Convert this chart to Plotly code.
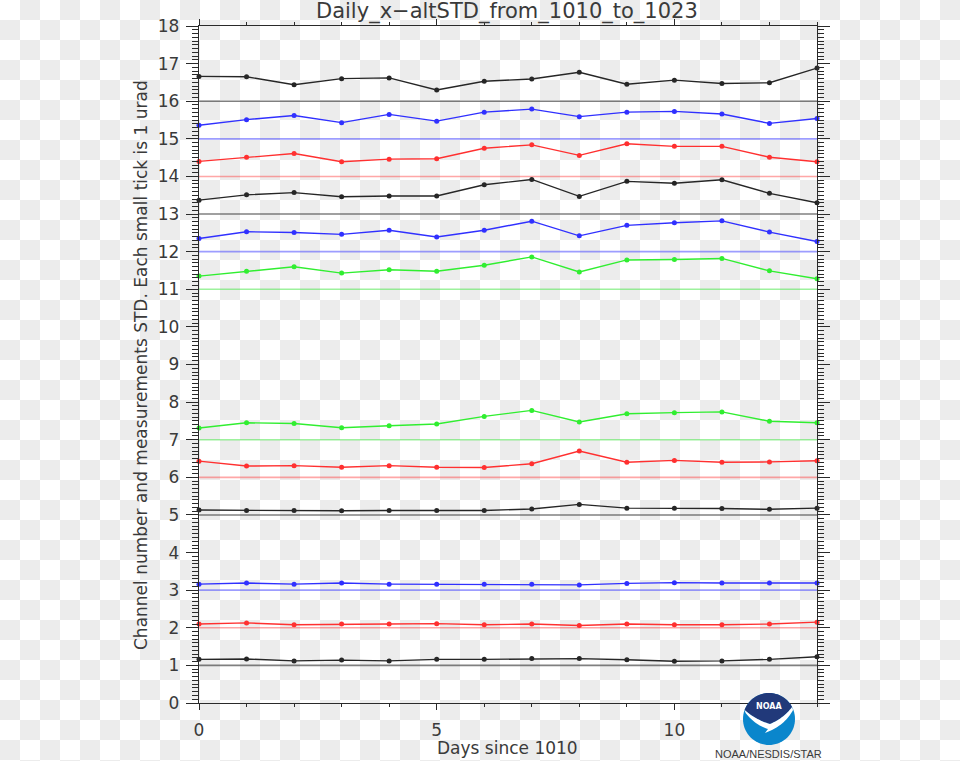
import base64
import numpy as np
import plotly.graph_objects as go

# ---------------- data ----------------
days = list(range(14))
channels = [1, 2, 3, 5, 6, 7, 11, 12, 13, 14, 15, 16]

ch1 = [1.16, 1.17, 1.12, 1.14, 1.12, 1.16, 1.16, 1.18, 1.18, 1.15, 1.11, 1.12, 1.16, 1.23]
ch2 = [2.10, 2.13, 2.08, 2.10, 2.10, 2.11, 2.08, 2.10, 2.06, 2.10, 2.08, 2.08, 2.10, 2.15]
ch3 = [3.16, 3.19, 3.16, 3.19, 3.16, 3.16, 3.16, 3.16, 3.14, 3.18, 3.20, 3.19, 3.19, 3.19]
ch5 = [5.13, 5.12, 5.12, 5.11, 5.12, 5.12, 5.12, 5.16, 5.28, 5.18, 5.18, 5.17, 5.15, 5.18]
ch6 = [6.43, 6.30, 6.31, 6.27, 6.31, 6.27, 6.26, 6.36, 6.70, 6.40, 6.45, 6.40, 6.41, 6.44]
ch7 = [7.31, 7.45, 7.43, 7.32, 7.37, 7.42, 7.62, 7.78, 7.47, 7.69, 7.72, 7.74, 7.49, 7.45]
ch11 = [11.35, 11.48, 11.60, 11.43, 11.52, 11.48, 11.64, 11.86, 11.46, 11.78, 11.79, 11.82, 11.49, 11.28]
ch12 = [12.35, 12.53, 12.51, 12.46, 12.57, 12.39, 12.57, 12.81, 12.42, 12.70, 12.77, 12.82, 12.52, 12.27]
ch13 = [13.37, 13.51, 13.57, 13.46, 13.48, 13.48, 13.78, 13.92, 13.47, 13.87, 13.82, 13.91, 13.55, 13.30]
ch14 = [14.40, 14.51, 14.61, 14.39, 14.46, 14.47, 14.75, 14.84, 14.56, 14.87, 14.80, 14.80, 14.51, 14.39]
ch15 = [15.36, 15.51, 15.62, 15.43, 15.65, 15.47, 15.71, 15.79, 15.59, 15.71, 15.73, 15.66, 15.41, 15.54]
ch16 = [16.66, 16.65, 16.44, 16.60, 16.62, 16.30, 16.53, 16.59, 16.77, 16.45, 16.56, 16.47, 16.49, 16.88]

series = [ch1, ch2, ch3, ch5, ch6, ch7, ch11, ch12, ch13, ch14, ch15, ch16]

x_ticks = [0, 5, 10]
y_ticks = list(range(0, 19))

title = "Daily_x\u2212altSTD_from_1010_to_1023"
x_title = "Days since 1010"
y_title = "Channel number and measurements STD. Each small tick is 1 urad"

# ---------------- style ----------------
color_of = {1: "k", 2: "r", 3: "b", 5: "k", 6: "r", 7: "g",
            11: "g", 12: "b", 13: "k", 14: "r", 15: "b", 16: "k"}
line_col = {"k": "#262626", "r": "#ff3030", "b": "#3030ff", "g": "#30ee30"}
ref_col = {"k": "rgba(60,60,60,0.65)", "r": "rgba(255,60,60,0.45)",
           "b": "rgba(60,60,255,0.5)", "g": "rgba(60,230,60,0.5)"}

W, H = 960, 761
L, R, T, B = 199, 143, 26, 58
PW, PH = W - L - R, H - T - B


def px(x):
    return (x - L) / PW


def py(y):
    return (H - B - y) / PH


fig = go.Figure()

for ch, c in zip(channels, [color_of[c] for c in channels]):
    fig.add_trace(go.Scatter(
        x=[days[0], days[-1]], y=[ch, ch], mode="lines",
        line=dict(color=ref_col[c], width=1.6), hoverinfo="skip",
        showlegend=False, cliponaxis=False))

for ch, vals in zip(channels, series):
    c = color_of[ch]
    fig.add_trace(go.Scatter(
        x=days, y=vals, mode="lines+markers",
        line=dict(color=line_col[c], width=1.4),
        marker=dict(color=line_col[c], size=5, symbol="circle"),
        showlegend=False, cliponaxis=False, name=f"ch{ch}"))

# checkerboard background
svg = ("<svg xmlns='http://www.w3.org/2000/svg' width='960' height='761'>"
       "<defs><pattern id='p' width='40' height='40' patternUnits='userSpaceOnUse'>"
       "<rect x='0' y='0' width='40' height='40' fill='#ffffff'/>"
       "<rect x='20' y='0' width='20' height='20' fill='#ececec'/>"
       "<rect x='0' y='20' width='20' height='20' fill='#ececec'/>"
       "</pattern></defs><rect width='960' height='761' fill='url(#p)'/></svg>")
src = "data:image/svg+xml;base64," + base64.b64encode(svg.encode()).decode()
fig.add_layout_image(dict(source=src, xref="paper", yref="paper",
                          x=px(0), y=py(0), sizex=W / PW, sizey=H / PH,
                          xanchor="left", yanchor="top", sizing="stretch",
                          layer="below"))

# NOAA logo
cx, cy, r = 769, 719, 26


def to_path(pts, close=True):
    s = "M " + " L ".join(f"{px(a):.5f},{py(b):.5f}" for a, b in pts)
    return s + (" Z" if close else "")


ang = np.linspace(0, 2 * np.pi, 73)
circle = [(cx + r * np.cos(t), cy + r * np.sin(t)) for t in ang]
shapes = [dict(type="path", path=to_path(circle), xref="paper", yref="paper",
               fillcolor="#0a86cc", line=dict(width=0), layer="above")]


def quad(p0, p1, p2, n=16):
    out = []
    for t in np.linspace(0, 1, n):
        out.append(((1 - t) ** 2 * p0[0] + 2 * (1 - t) * t * p1[0] + t ** 2 * p2[0],
                    (1 - t) ** 2 * p0[1] + 2 * (1 - t) * t * p1[1] + t ** 2 * p2[1]))
    return out


# navy top region
a0 = np.pi + np.arcsin(9 / r)
a1 = 2 * np.pi - np.arcsin(12 / r)
arc = [(cx + r * np.cos(t), cy + r * np.sin(t)) for t in np.linspace(a0, a1, 40)]
left_pt = arc[0]
right_pt = arc[-1]
lower = quad(right_pt, (784, 718), (770, 724)) + quad((770, 724), (756, 720), left_pt)
navy = arc + lower
shapes.append(dict(type="path", path=to_path(navy), xref="paper", yref="paper",
                   fillcolor="#21397a", line=dict(width=0), layer="above"))
# white bird swoosh
wing = quad(left_pt, (756, 720), (770, 724)) + quad((770, 724), (784, 718), right_pt)
wing += quad((right_pt[0] + 1, right_pt[1] + 3), (786, 723), (772, 730))
wing += [(765, 733), (768, 729)]
wing += quad((768, 729), (755, 725), (left_pt[0] + 1, left_pt[1] + 3))
shapes.append(dict(type="path", path=to_path(wing), xref="paper", yref="paper",
                   fillcolor="#ffffff", line=dict(width=0), layer="above"))

txt_col = "#3a3a3a"
annotations = [
    dict(text=title, x=px(507), y=py(11), xref="paper", yref="paper", showarrow=False,
         font=dict(family="DejaVu Sans", size=21, color=txt_col),
         xanchor="center", yanchor="middle"),
    dict(text=x_title, x=px(507), y=py(748), xref="paper", yref="paper", showarrow=False,
         font=dict(family="DejaVu Sans", size=17, color=txt_col),
         xanchor="center", yanchor="middle"),
    dict(text=y_title, x=px(141), y=py(365), xref="paper", yref="paper", showarrow=False,
         textangle=-90, font=dict(family="DejaVu Sans", size=17, color=txt_col),
         xanchor="center", yanchor="middle"),
    dict(text="<b>NOAA</b>", x=px(769), y=py(706), xref="paper", yref="paper",
         showarrow=False, font=dict(family="DejaVu Sans", size=8, color="#ffffff"),
         xanchor="center", yanchor="middle"),
    dict(text="NOAA/NESDIS/STAR", x=px(768), y=py(754), xref="paper", yref="paper",
         showarrow=False, font=dict(family="Liberation Sans", size=11, color=txt_col),
         xanchor="center", yanchor="middle"),
]

axis_col = "#2a2a2a"
fig.update_layout(
    width=W, height=H,
    margin=dict(l=L, r=R, t=T, b=B, pad=0),
    paper_bgcolor="#ffffff", plot_bgcolor="rgba(0,0,0,0)",
    shapes=shapes, annotations=annotations,
    xaxis=dict(range=[0, 13], tickvals=x_ticks, ticks="outside", ticklen=6,
               tickwidth=1.2, tickcolor=axis_col, showline=True, linecolor=axis_col,
               linewidth=1.4, mirror="ticks", showgrid=False, zeroline=False,
               minor=dict(dtick=1, tick0=0, ticks="outside", ticklen=3,
                          tickcolor=axis_col, tickwidth=1.2, showgrid=False),
               tickfont=dict(family="DejaVu Sans", size=17, color=txt_col),
               ticklabelstandoff=5),
    yaxis=dict(range=[0, 18], tickvals=y_ticks, ticks="outside", ticklen=12,
               tickwidth=1.2, tickcolor=axis_col, showline=True, linecolor=axis_col,
               linewidth=1.4, mirror="ticks", showgrid=False, zeroline=False,
               minor=dict(dtick=0.1, tick0=0, ticks="outside", ticklen=6,
                          tickcolor=axis_col, tickwidth=1, showgrid=False),
               tickfont=dict(family="DejaVu Sans", size=17, color=txt_col),
               ticklabelstandoff=3),
)

fig.write_html("out.html")
